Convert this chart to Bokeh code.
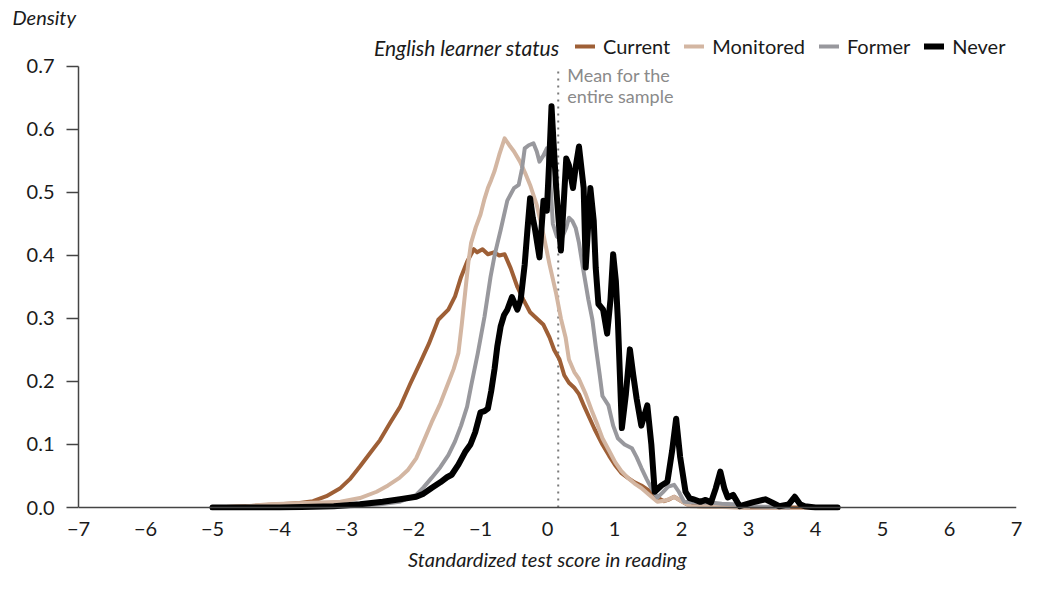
from bokeh.plotting import figure
from bokeh.models import Range1d, FixedTicker, Span, Label, Legend, LegendItem
from bokeh.embed import file_html
from bokeh.resources import INLINE

# ---------------- data ----------------
current_x = [-5.0, -4.5, -4.0, -3.7, -3.5, -3.3, -3.1, -2.95, -2.8, -2.65, -2.5, -2.35, -2.2, -2.05,
             -1.9, -1.77, -1.63, -1.48, -1.38, -1.29, -1.2, -1.1, -1.05, -0.97, -0.89, -0.8, -0.72,
             -0.64, -0.55, -0.45, -0.36, -0.26, -0.16, -0.06, 0.03, 0.1, 0.18, 0.25, 0.32, 0.4, 0.47,
             0.55, 0.61, 0.7, 0.82, 0.92, 1.01, 1.1, 1.2, 1.3, 1.4, 1.5, 1.6, 1.67, 1.74, 1.82, 1.89,
             1.97, 2.08, 2.25, 2.5, 3.0, 3.5, 4.0]
current_y = [0.0, 0.002, 0.005, 0.007, 0.01, 0.018, 0.03, 0.045, 0.065, 0.086, 0.107, 0.134, 0.16, 0.196,
             0.23, 0.26, 0.298, 0.314, 0.335, 0.366, 0.39, 0.41, 0.405, 0.41, 0.402, 0.405, 0.4,
             0.402, 0.38, 0.35, 0.33, 0.31, 0.3, 0.29, 0.27, 0.25, 0.235, 0.21, 0.198, 0.19, 0.18,
             0.16, 0.146, 0.125, 0.1, 0.082, 0.067, 0.055, 0.047, 0.04, 0.035, 0.028, 0.02, 0.014, 0.01,
             0.013, 0.017, 0.012, 0.005, 0.002, 0.001, 0.0, 0.0, 0.0]

monitored_x = [-5.0, -4.5, -4.16, -3.6, -3.09, -2.8, -2.55, -2.38, -2.21, -2.08, -1.96, -1.85, -1.73,
               -1.6, -1.48, -1.4, -1.33, -1.28, -1.23, -1.18, -1.14, -1.07, -1.0, -0.94, -0.89, -0.84,
               -0.79, -0.72, -0.64, -0.57, -0.5, -0.41, -0.33, -0.26, -0.16, -0.06, 0.03, 0.13, 0.2,
               0.27, 0.32, 0.4, 0.47, 0.57, 0.67, 0.75, 0.82, 0.92, 1.01, 1.1, 1.2, 1.3, 1.4, 1.52,
               1.64, 1.76, 1.89, 2.0, 2.14, 2.4, 3.0]
monitored_y = [0.0, 0.002, 0.005, 0.007, 0.009, 0.015, 0.025, 0.035, 0.047, 0.06, 0.078, 0.105, 0.135,
               0.165, 0.198, 0.22, 0.245, 0.29, 0.34, 0.39, 0.42, 0.445, 0.465, 0.49, 0.507, 0.52,
               0.534, 0.56, 0.586, 0.575, 0.565, 0.549, 0.53, 0.512, 0.48, 0.433, 0.386, 0.339, 0.3,
               0.27, 0.235, 0.215, 0.204, 0.18, 0.151, 0.13, 0.11, 0.09, 0.072, 0.058, 0.047, 0.038,
               0.031, 0.02, 0.009, 0.011, 0.017, 0.01, 0.002, 0.001, 0.0]

former_x = [-5.0, -4.0, -3.5, -2.94, -2.5, -2.21, -1.96, -1.85, -1.73, -1.6, -1.48, -1.38, -1.29, -1.2,
            -1.14, -1.04, -0.94, -0.85, -0.79, -0.75, -0.7, -0.6, -0.5, -0.43, -0.38, -0.34, -0.28,
            -0.21, -0.16, -0.12, -0.06, -0.01, 0.04, 0.08, 0.14, 0.2, 0.28, 0.32, 0.37, 0.42, 0.47,
            0.53, 0.61, 0.67, 0.72, 0.78, 0.82, 0.91, 0.98, 1.05, 1.15, 1.26, 1.33, 1.4, 1.48, 1.55,
            1.64, 1.72, 1.8, 1.89, 1.96, 2.04, 2.2, 2.43, 2.6, 2.77, 3.0, 3.3, 3.6]
former_y = [0.0, 0.0, 0.001, 0.002, 0.005, 0.009, 0.02, 0.032, 0.047, 0.064, 0.083, 0.105, 0.13, 0.16,
            0.193, 0.245, 0.303, 0.366, 0.4, 0.418, 0.44, 0.487, 0.507, 0.512, 0.538, 0.57, 0.575,
            0.578, 0.565, 0.549, 0.559, 0.57, 0.52, 0.45, 0.43, 0.424, 0.444, 0.46, 0.455, 0.444, 0.42,
            0.38, 0.33, 0.298, 0.256, 0.21, 0.177, 0.162, 0.13, 0.11, 0.1, 0.094, 0.08, 0.063, 0.045,
            0.031, 0.016, 0.024, 0.033, 0.036, 0.025, 0.009, 0.008, 0.008, 0.006, 0.005, 0.002, 0.001, 0.0]

never_x = [-5.0, -4.0, -3.5, -3.19, -2.8, -2.46, -2.2, -1.96, -1.85, -1.73, -1.6, -1.5, -1.43, -1.33,
           -1.23, -1.15, -1.08, -1.0, -0.94, -0.89, -0.84, -0.79, -0.75, -0.7, -0.65, -0.6, -0.53,
           -0.45, -0.4, -0.34, -0.3, -0.26, -0.22, -0.19, -0.12, -0.06, -0.01, 0.03, 0.06, 0.09,
           0.13, 0.2, 0.24, 0.28, 0.32, 0.38, 0.42, 0.47, 0.54, 0.57, 0.64, 0.69, 0.72, 0.76, 0.83,
           0.89, 0.94, 0.98, 1.02, 1.05, 1.11, 1.17, 1.23, 1.28, 1.33, 1.4, 1.49, 1.55, 1.6, 1.7,
           1.79, 1.86, 1.92, 1.98, 2.06, 2.12, 2.18, 2.28, 2.36, 2.44, 2.51, 2.58, 2.64, 2.69, 2.77,
           2.87, 3.06, 3.25, 3.35, 3.46, 3.6, 3.69, 3.77, 3.84, 4.0, 4.33]
never_y = [0.0, 0.0, 0.001, 0.002, 0.005, 0.009, 0.013, 0.017, 0.022, 0.031, 0.04, 0.048, 0.052, 0.068,
           0.088, 0.1, 0.119, 0.151, 0.153, 0.157, 0.185, 0.22, 0.255, 0.287, 0.305, 0.314, 0.334,
           0.314, 0.33, 0.386, 0.44, 0.491, 0.46, 0.444, 0.397, 0.487, 0.471, 0.56, 0.637, 0.58,
           0.507, 0.408, 0.48, 0.554, 0.543, 0.507, 0.54, 0.573, 0.507, 0.381, 0.507, 0.455, 0.38,
           0.323, 0.314, 0.276, 0.33, 0.402, 0.36, 0.298, 0.126, 0.18, 0.251, 0.21, 0.173, 0.13,
           0.162, 0.1, 0.025, 0.035, 0.041, 0.09, 0.141, 0.08, 0.025, 0.015, 0.013, 0.009, 0.012,
           0.008, 0.03, 0.057, 0.03, 0.016, 0.02, 0.002, 0.008, 0.013, 0.008, 0.002, 0.005, 0.017,
           0.005, 0.002, 0.0, 0.0]

series_names = ["Current", "Monitored", "Former", "Never"]
series_colors = ["#9e5f36", "#d3b6a2", "#98989d", "#000000"]
series_widths = [4, 4, 4, 6]

MEAN = 0.16
X_TICKS = [-7, -6, -5, -4, -3, -2, -1, 0, 1, 2, 3, 4, 5, 6, 7]
Y_TICKS = [0.0, 0.1, 0.2, 0.3, 0.4, 0.5, 0.6, 0.7]

FONT = "Lato"
AXIS_COLOR = "#444444"
TEXT_COLOR = "#1a1a1a"

# ---------------- figure ----------------
p = figure(width=1022, height=573, output_backend="svg", toolbar_location=None,
           x_range=Range1d(-7, 7), y_range=Range1d(-0.00476, 0.7603),
           min_border_left=78, min_border_right=6, min_border_top=28, min_border_bottom=63)
p.outline_line_color = None
p.xgrid.visible = False
p.ygrid.visible = False

# title "Density" at the top left
p.title.text = "Density"
p.title.text_font = FONT
p.title.text_font_style = "italic"
p.title.text_font_size = "20px"
p.title.text_color = TEXT_COLOR
p.title.align = "left"
p.title.offset = -66
p.title.standoff = 0

# x axis
xa = p.xaxis[0]
xa.ticker = FixedTicker(ticks=X_TICKS)
xa.major_label_overrides = {t: (str(t).replace("-", "\u2212")) for t in X_TICKS}
xa.major_tick_out = 0
xa.major_tick_in = 0
xa.minor_tick_out = 0
xa.minor_tick_in = 0
xa.axis_line_color = None
xa.major_label_standoff = 11
xa.major_label_text_font = FONT
xa.major_label_text_font_size = "20px"
xa.major_label_text_color = TEXT_COLOR
xa.axis_label = "Standardized test score in reading"
xa.axis_label_text_font = FONT
xa.axis_label_text_font_style = "italic"
xa.axis_label_text_font_size = "20px"
xa.axis_label_text_color = TEXT_COLOR
xa.axis_label_standoff = 8

# y axis
ya = p.yaxis[0]
ya.ticker = FixedTicker(ticks=Y_TICKS)
ya.bounds = (Y_TICKS[0], Y_TICKS[-1])
ya.major_label_overrides = {t: "%.1f" % t for t in Y_TICKS}
ya.major_tick_out = 12
ya.major_tick_in = 0
ya.minor_tick_out = 0
ya.minor_tick_in = 0
ya.axis_line_color = AXIS_COLOR
ya.axis_line_width = 1.5
ya.major_tick_line_color = AXIS_COLOR
ya.major_tick_line_width = 1.5
ya.major_label_standoff = 12
ya.major_label_text_font = FONT
ya.major_label_text_font_size = "20px"
ya.major_label_text_color = TEXT_COLOR

# baseline at zero
p.add_layout(Span(location=0, dimension="width", line_color=AXIS_COLOR, line_width=1.5))

# mean line (dotted), from 0 to the top of the axis
p.segment(x0=[MEAN], y0=[Y_TICKS[0]], x1=[MEAN], y1=[Y_TICKS[-1]],
          line_color="#7a7a7a", line_width=2, line_dash="2 5")

# curves
xs = [current_x, monitored_x, former_x, never_x]
ys = [current_y, monitored_y, former_y, never_y]
renderers = []
for name, cx, cy, col, w in zip(series_names, xs, ys, series_colors, series_widths):
    r = p.line(cx, cy, line_color=col, line_width=w, line_join="round", line_cap="round")
    renderers.append(r)

legend = Legend(items=[LegendItem(label=n, renderers=[r]) for n, r in zip(series_names, renderers)],
                orientation="horizontal", location=(497, 452))
legend.label_text_font = FONT
legend.label_text_font_size = "20px"
legend.label_text_color = TEXT_COLOR
legend.glyph_width = 20
legend.glyph_height = 20
legend.label_standoff = 8
legend.spacing = 14
legend.padding = 0
legend.margin = 0
legend.border_line_color = None
legend.background_fill_alpha = 0
p.add_layout(legend)

# texts inside the frame
p.add_layout(Label(x=-7, y=0.7, x_offset=481, y_offset=19, text="English learner status",
                   text_font=FONT, text_font_size="21px", text_font_style="italic",
                   text_baseline="middle", text_align="right", text_color=TEXT_COLOR))
p.add_layout(Label(x=MEAN, y=0.7, x_offset=9, y_offset=-9, text="Mean for the",
                   text_font=FONT, text_font_size="18px", text_baseline="middle",
                   text_color="#8a8a8a"))
p.add_layout(Label(x=MEAN, y=0.7, x_offset=9, y_offset=-30, text="entire sample",
                   text_font=FONT, text_font_size="18px", text_baseline="middle",
                   text_color="#8a8a8a"))

open("out.html", "w").write(file_html(p, INLINE))
